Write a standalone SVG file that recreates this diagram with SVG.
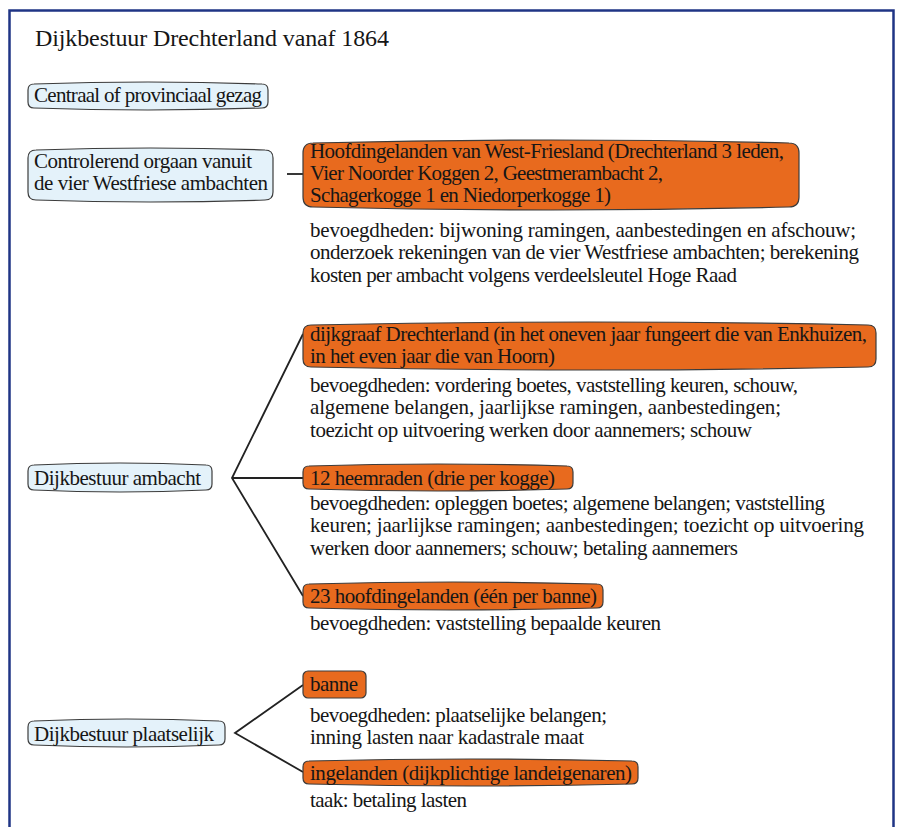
<svg xmlns="http://www.w3.org/2000/svg" width="898" height="827" viewBox="0 0 898 827">
<style>
text{font-family:"Liberation Serif","Times New Roman",serif;font-size:21px;fill:#161616;}
.title{font-size:24px;}
.blue{fill:#e4f2fa;stroke:#3c3c3c;stroke-width:1.2;}
.orange{fill:#e86a1e;stroke:#3c3c3c;stroke-width:1.2;}
.con{stroke:#222;stroke-width:1.8;fill:none;}
</style>
<rect x="9.5" y="10.5" width="884" height="840" fill="#fff" stroke="#1f3485" stroke-width="2.5"/>
<text class="title" x="35" y="46" textLength="354" lengthAdjust="spacing">Dijkbestuur Drechterland vanaf 1864</text>

<g id="connectors">
<line class="con" x1="287" y1="174" x2="303" y2="174"/>
<polyline class="con" points="303,334 232,478 303,596"/>
<line class="con" x1="232" y1="478" x2="303" y2="478"/>
<polyline class="con" points="303,685 235,733 303,772"/>
</g>

<g id="centraal">
<path class="blue" d="M28,90 Q28,84 34,84 Q148,80 262,84 Q268,84 268,90 L268,102 Q268,108 262,108 Q148,112 34,108 Q28,108 28,102 Z"/>
<text x="34" y="102" textLength="228" lengthAdjust="spacing">Centraal of provinciaal gezag</text>
</g>

<g id="controlerend">
<path class="blue" d="M28,158 Q28,150 36,150 Q150.5,146 265,150 Q273,150 273,158 L273,192 Q273,200 265,200 Q150.5,204 36,200 Q28,200 28,192 Z"/>
<text x="34" y="168" textLength="218" lengthAdjust="spacing">Controlerend orgaan vanuit</text>
<text x="34" y="190" textLength="234" lengthAdjust="spacing">de vier Westfriese ambachten</text>
</g>

<g id="hoofdingelanden-wf">
<path class="orange" d="M303,153 Q303,143 313,143 Q551,137 789,143 Q799,143 799,153 L799,197 Q799,207 789,207 Q551,213 313,207 Q303,207 303,197 Z"/>
<text x="310" y="158" textLength="474" lengthAdjust="spacing">Hoofdingelanden van West-Friesland (Drechterland 3 leden,</text>
<text x="310" y="180" textLength="353" lengthAdjust="spacing">Vier Noorder Koggen 2, Geestmerambacht 2,</text>
<text x="310" y="202" textLength="301" lengthAdjust="spacing">Schagerkogge 1 en Niedorperkogge 1)</text>
</g>
<g id="bevoegdheden-wf">
<text x="310" y="237" textLength="546" lengthAdjust="spacing">bevoegdheden: bijwoning ramingen, aanbestedingen en afschouw;</text>
<text x="310" y="259" textLength="549" lengthAdjust="spacing">onderzoek rekeningen van de vier Westfriese ambachten; berekening</text>
<text x="310" y="282" textLength="427" lengthAdjust="spacing">kosten per ambacht volgens verdeelsleutel Hoge Raad</text>
</g>

<g id="dijkgraaf">
<path class="orange" d="M303,333 Q303,325 311,325 Q589.5,319 868,325 Q876,325 876,333 L876,359 Q876,367 868,367 Q589.5,373 311,367 Q303,367 303,359 Z"/>
<text x="310" y="341" textLength="557" lengthAdjust="spacing">dijkgraaf Drechterland (in het oneven jaar fungeert die van Enkhuizen,</text>
<text x="310" y="363" textLength="245" lengthAdjust="spacing">in het even jaar die van Hoorn)</text>
</g>
<g id="bevoegdheden-dijkgraaf">
<text x="310" y="392" textLength="488" lengthAdjust="spacing">bevoegdheden: vordering boetes, vaststelling keuren, schouw,</text>
<text x="310" y="414" textLength="471" lengthAdjust="spacing">algemene belangen, jaarlijkse ramingen, aanbestedingen;</text>
<text x="310" y="437" textLength="442" lengthAdjust="spacing">toezicht op uitvoering werken door aannemers; schouw</text>
</g>

<g id="dijkbestuur-ambacht">
<path class="blue" d="M28,471 Q28,465 34,465 Q120,461 206,465 Q212,465 212,471 L212,484 Q212,490 206,490 Q120,494 34,490 Q28,490 28,484 Z"/>
<text x="34" y="485" textLength="167" lengthAdjust="spacing">Dijkbestuur ambacht</text>
</g>

<g id="heemraden">
<path class="orange" d="M303,472 Q303,466 309,466 Q438,462 567,466 Q573,466 573,472 L573,483 Q573,489 567,489 Q438,493 309,489 Q303,489 303,483 Z"/>
<text x="310" y="485" textLength="245" lengthAdjust="spacing">12 heemraden (drie per kogge)</text>
</g>
<g id="bevoegdheden-heemraden">
<text x="310" y="510" textLength="515" lengthAdjust="spacing">bevoegdheden: opleggen boetes; algemene belangen; vaststelling</text>
<text x="310" y="532" textLength="554" lengthAdjust="spacing">keuren; jaarlijkse ramingen; aanbestedingen; toezicht op uitvoering</text>
<text x="310" y="555" textLength="428" lengthAdjust="spacing">werken door aannemers; schouw; betaling aannemers</text>
</g>

<g id="hoofdingelanden-banne">
<path class="orange" d="M303,590 Q303,584 309,584 Q453,580 597,584 Q603,584 603,590 L603,602 Q603,608 597,608 Q453,612 309,608 Q303,608 303,602 Z"/>
<text x="310" y="603" textLength="287" lengthAdjust="spacing">23 hoofdingelanden (één per banne)</text>
</g>
<g id="bevoegdheden-hoofdingelanden">
<text x="310" y="630" textLength="351" lengthAdjust="spacing">bevoegdheden: vaststelling bepaalde keuren</text>
</g>

<g id="dijkbestuur-plaatselijk">
<path class="blue" d="M28,727 Q28,721 34,721 Q126.5,717 219,721 Q225,721 225,727 L225,739 Q225,745 219,745 Q126.5,749 34,745 Q28,745 28,739 Z"/>
<text x="34" y="741" textLength="180" lengthAdjust="spacing">Dijkbestuur plaatselijk</text>
</g>

<g id="banne">
<rect class="orange" x="303" y="671" width="63" height="27" rx="5"/>
<text x="310" y="691" textLength="48" lengthAdjust="spacing">banne</text>
</g>
<g id="bevoegdheden-banne">
<text x="310" y="722" textLength="297" lengthAdjust="spacing">bevoegdheden: plaatselijke belangen;</text>
<text x="310" y="744" textLength="274" lengthAdjust="spacing">inning lasten naar kadastrale maat</text>
</g>

<g id="ingelanden">
<path class="orange" d="M303,767 Q303,761 309,761 Q470.5,757 632,761 Q638,761 638,767 L638,778 Q638,784 632,784 Q470.5,788 309,784 Q303,784 303,778 Z"/>
<text x="310" y="780" textLength="322" lengthAdjust="spacing">ingelanden (dijkplichtige landeigenaren)</text>
</g>
<g id="taak-ingelanden">
<text x="310" y="807" textLength="157" lengthAdjust="spacing">taak: betaling lasten</text>
</g>
</svg>
